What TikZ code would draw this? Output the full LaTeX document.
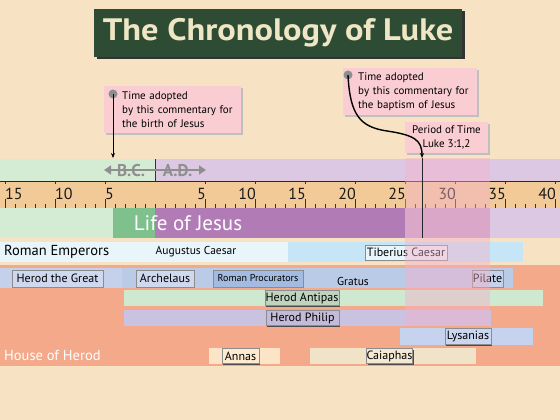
\documentclass[tikz,border=0pt]{standalone}
\usepackage{fontspec}
\setmainfont{PT Sans}
\usetikzlibrary{shadows,arrows.meta}
\definecolor{bg}{HTML}{F7E3C3}
\definecolor{titlegreen}{HTML}{2E4B33}
\definecolor{titletext}{HTML}{EFE6C6}
\definecolor{calloutpink}{HTML}{F9CDD2}
\definecolor{dotgrey}{HTML}{8E8E8E}
\definecolor{lgreen}{HTML}{D4ECD4}
\definecolor{lav}{HTML}{DDC8E4}
\definecolor{tan}{HTML}{F2CA98}
\definecolor{jgreen}{HTML}{7FC18C}
\definecolor{jpurple}{HTML}{B17BB5}
\definecolor{jpink}{HTML}{C8A0C8}
\definecolor{bandpink}{HTML}{F4B0C8}
\definecolor{aug}{HTML}{E8F5FB}
\definecolor{tib}{HTML}{C6E5F6}
\definecolor{salmon}{HTML}{F4A98A}
\definecolor{rthreea}{HTML}{C5D1EB}
\definecolor{rthreeb}{HTML}{BACBE8}
\definecolor{procu}{HTML}{A3BBE0}
\definecolor{antipas}{HTML}{CFE9D0}
\definecolor{philip}{HTML}{C9C2E1}
\definecolor{lys}{HTML}{C5D3EF}
\definecolor{annas}{HTML}{FCE5C6}
\definecolor{caia}{HTML}{F1E3C7}
\definecolor{gtext}{HTML}{8F8F8F}
\tikzset{
  titlebox/.style={fill=titlegreen, text=titletext, inner sep=0pt,
    font=\fontsize{31}{32}\selectfont\bfseries,
    general shadow={fill=black!80, shadow xshift=2.5pt, shadow yshift=-2.5pt}},
  callout/.style={fill=calloutpink, inner sep=0pt, font=\fontsize{11}{14}\selectfont,
    general shadow={fill=black!25, shadow xshift=1.5pt, shadow yshift=-1.5pt}},
  dot/.style={circle, fill=dotgrey, minimum size=9pt, inner sep=0pt},
  conn/.style={draw=black, line width=1.2pt},
  rulerline/.style={draw=black!85, line width=1pt},
  tick/.style={draw=black!80, line width=0.7pt},
  num/.style={font=\fontsize{16}{16}\selectfont, inner sep=0pt, text=black!90},
  lbl/.style={draw=black!45, line width=0.3pt, inner sep=0pt, text=black,
    font=\fontsize{12}{12}\selectfont,
    general shadow={fill=black!70, shadow xshift=1.2pt, shadow yshift=-1.2pt}},
  plain/.style={inner sep=0pt, text=black, font=\fontsize{11.5}{12}\selectfont},
  rowlabel/.style={inner sep=0pt, font=\fontsize{14.5}{14.5}\selectfont},
  bcad/.style={inner sep=0pt, text=gtext, font=\fontsize{17}{17}\selectfont\bfseries},
}
\begin{document}
\begin{tikzpicture}[x=1pt,y=-1pt]
\useasboundingbox (0,0) rectangle (560,420);
\fill[bg] (0,0) rectangle (560,420);
% title
\node[titlebox, minimum width=368pt, minimum height=48pt] (title) at (278,33) {\scalebox{1.11}[1]{The Chronology of Luke}};
% B.C. / A.D. band
\fill[lgreen] (0,159) rectangle (155,181);
\fill[lav] (155,159) rectangle (560,181);
\draw[black!80, line width=0.6pt] (155,159) -- (155,181);
% ruler
\fill[tan] (0,181) rectangle (560,208);
\foreach \k in {0,...,55} {\draw[tick] ({5+10*\k},208) -- ++(0,-4);}
\foreach \x in {5,55,105,205,255,305,355,405,455,505,555} {
  \draw[tick] (\x,208) -- ++(0,-9);
  \draw[tick] (\x,181) -- ++(0,3);}
\draw[rulerline] (0,181) -- (560,181) (0,208) -- (560,208);
\node[num, anchor=west] (b15) at (5,194) {15};
\node[num, anchor=west] (b10) at (55,194) {10};
\node[num, anchor=west] (b5) at (105,194) {5};
\foreach \v in {5,10,...,40} {\node[num, anchor=east] (a\v) at ({156+10*\v},194) {\v};}
% Life of Jesus
\fill[lgreen] (0,208) rectangle (113,238);
\fill[jgreen] (113,208) rectangle (155,238);
\fill[jpurple] (155,208) rectangle (405,238);
\fill[jpink] (405,208) rectangle (490,238);
\fill[lav] (490,208) rectangle (560,238);
\node[inner sep=0pt, text=white, font=\fontsize{21}{21}\selectfont] (life) at (188,223) {Life of Jesus};
% house of Herod background
\fill[salmon] (0,265) rectangle (560,366);
% Roman emperors
\fill[aug] (0,242) rectangle (288,262);
\fill[tib] (288,242) rectangle (523,262);
\node[rowlabel, anchor=west, text=black] (emp) at (4,252) {Roman Emperors};
\node[plain] (augustus) at (196,252) {Augustus Caesar};
% row 3
\fill[rthreea] (0,268) rectangle (122,288);
\fill[rthreeb] (122,268) rectangle (513,288);
% row 4-7 bars
\fill[antipas] (124,290) rectangle (543,306);
\fill[philip] (124,310) rectangle (491,326);
\fill[lys] (400,328) rectangle (533,345);
\fill[annas] (209,348) rectangle (280,364);
\fill[caia] (310,348) rectangle (476,364);
% label boxes
\node[lbl, fill=tib!40!white, minimum width=82pt, minimum height=15pt] (tiberius) at (406,252.5) {Tiberius Caesar};
\node[lbl, fill=rthreea!85!white, minimum width=91pt, minimum height=17pt] (hgreat) at (57.5,278.5) {Herod the Great};
\node[lbl, fill=rthreea!85!white, minimum width=58pt, minimum height=17pt] (archelaus) at (165,278.5) {Archelaus};
\node[lbl, fill=procu, minimum width=90pt, minimum height=17pt, font=\fontsize{10}{10}\selectfont] (procurators) at (258,278.5) {Roman Procurators};
\node[plain] (gratus) at (353,281) {Gratus};
\node[lbl, fill=rthreeb!85!white, minimum width=31pt, minimum height=17pt] (pilate) at (487.5,278.5) {Pilate};
\node[lbl, fill=antipas!90!black!95, minimum width=74pt, minimum height=15pt] (hantipas) at (302,298) {Herod Antipas};
\node[lbl, fill=philip!95!black!95, minimum width=73pt, minimum height=15pt] (hphilip) at (302.5,318) {Herod Philip};
\node[lbl, fill=lys!90!white, minimum width=46pt, minimum height=16pt] (lysanias) at (468,336.5) {Lysanias};
\node[lbl, fill=annas!80!white, minimum width=37pt, minimum height=15pt] (annasl) at (240.5,356) {Annas};
\node[lbl, fill=caia!80!white, minimum width=45pt, minimum height=15pt] (caiaphas) at (389.5,356) {Caiaphas};
\node[rowlabel, anchor=west, text=white] (herod) at (4,355) {House of Herod};
% pink band (period of time)
\fill[bandpink, fill opacity=0.45] (405,158) rectangle (490,326);
% B.C. / A.D. arrows and text
\coordinate (bcl) at (104,170);
\coordinate (adr) at (206,170);
\draw[gtext, line width=1.3pt, {Triangle[length=7pt,width=9pt]}-{Triangle[length=7pt,width=9pt]}] (bcl) -- (adr);
\node[bcad] (bc) at (131,170.5) {B.C.};
\node[bcad] (ad) at (177.5,170.5) {A.D.};
% callouts
\node[callout, anchor=north west, minimum width=137pt, minimum height=47pt, text width=137pt, align=left] (c1) at (104,86)
  {\hspace*{18pt}Time adopted\\\hspace*{18pt}by this commentary for\\\hspace*{18pt}the birth of Jesus};
\node[callout, anchor=north west, minimum width=134pt, minimum height=47pt, text width=134pt, align=left] (c2) at (343,68)
  {\hspace*{15pt}Time adopted\\\hspace*{15pt}by this commentary for\\\hspace*{15pt}the baptism of Jesus};
\node[callout, align=center, minimum width=83pt, minimum height=31pt] (period) at (446.5,137.5) {Period of Time\\Luke 3:1,2};
\node[dot] (d1) at (113,94) {};
\node[dot] (d2) at (348,75) {};
\coordinate (birth) at (113,158);
\coordinate (bapt) at (422,158);
\coordinate (baptend) at (422,238);
\draw[conn, line width=1pt, -{Stealth[length=5pt,width=4pt]}] (d1.center) -- (birth);
\draw[conn, line width=1.4pt, -{Stealth[length=5pt,width=4pt]}] (d2.center) .. controls (350,115) and (360,127) .. (387,131) .. controls (414,135) and (422,140) .. (bapt);
\draw[black!85, line width=0.8pt] (bapt) -- (baptend);
\end{tikzpicture}
\end{document}
